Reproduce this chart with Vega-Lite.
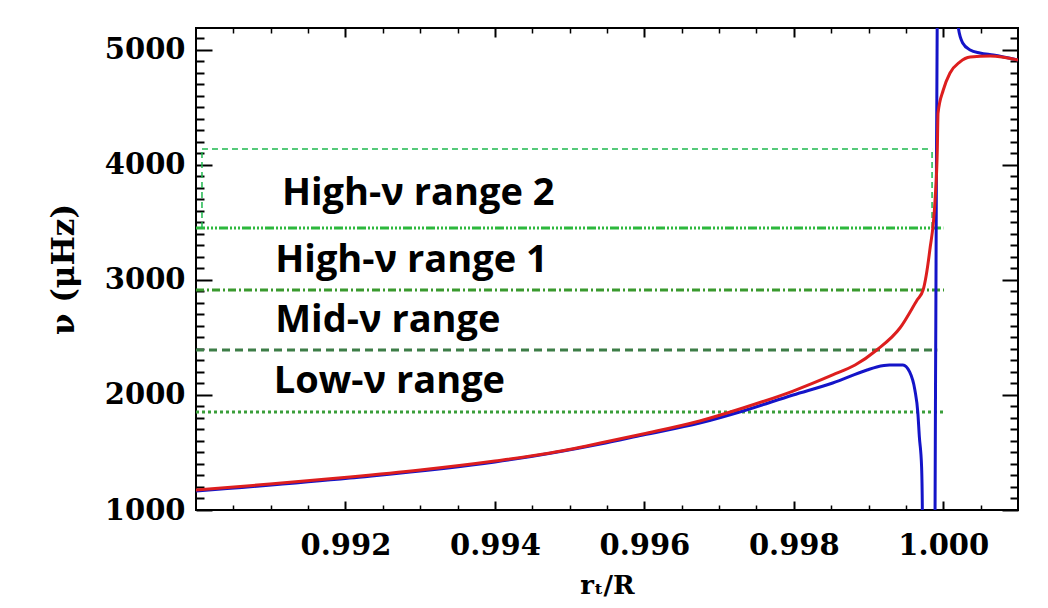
{
  "$schema": "https://vega.github.io/schema/vega-lite/v6.json",
  "width": 822,
  "height": 482,
  "autosize": {"type": "none"},
  "padding": {"left": 196, "top": 28, "right": 30, "bottom": 98},
  "background": "white",
  "config": {
    "view": {"stroke": "black", "strokeWidth": 2},
    "axis": {
      "grid": false,
      "domain": false,
      "tickColor": "black",
      "labelFont": "DejaVu Serif",
      "labelFontWeight": "bold",
      "labelFontSize": 29,
      "labelColor": "black",
      "labelFlush": false,
      "labelOverlap": false,
      "titleFont": "DejaVu Serif",
      "titleFontWeight": "bold",
      "titleColor": "black"
    }
  },
  "datasets": {
    "ranges": [
      {"kind": "low", "r0": 0.990, "r1": 1.00001, "nu": 1852},
      {"kind": "mid", "r0": 0.990, "r1": 0.99992, "nu": 2391},
      {"kind": "high1", "r0": 0.990, "r1": 1.00001, "nu": 2912},
      {"kind": "high2", "r0": 0.990, "r1": 1.00000, "nu": 3451}
    ],
    "box": [
      {"r0": 0.99008, "r1": 0.99985, "nu0": 4138, "nu1": 4138},
      {"r0": 0.99008, "r1": 0.99008, "nu0": 3451, "nu1": 4138},
      {"r0": 0.99985, "r1": 0.99985, "nu0": 3451, "nu1": 4138}
    ],
    "blue": [
      {"i": 0, "r": 0.99000, "nu": 1165},
      {"i": 1, "r": 0.99206, "nu": 1278},
      {"i": 2, "r": 0.99400, "nu": 1417},
      {"i": 3, "r": 0.99541, "nu": 1574},
      {"i": 4, "r": 0.99598, "nu": 1652},
      {"i": 5, "r": 0.99674, "nu": 1756},
      {"i": 6, "r": 0.99732, "nu": 1861},
      {"i": 7, "r": 0.99799, "nu": 2000},
      {"i": 8, "r": 0.99852, "nu": 2104},
      {"i": 9, "r": 0.99898, "nu": 2217},
      {"i": 10, "r": 0.99911, "nu": 2243},
      {"i": 11, "r": 0.99928, "nu": 2260},
      {"i": 12, "r": 0.99946, "nu": 2260},
      {"i": 13, "r": 0.99955, "nu": 2200},
      {"i": 14, "r": 0.99962, "nu": 2043},
      {"i": 15, "r": 0.99966, "nu": 1843},
      {"i": 16, "r": 0.99968, "nu": 1635},
      {"i": 17, "r": 0.99971, "nu": 1374},
      {"i": 18, "r": 0.99972, "nu": 1000},
      {"i": 19, "r": 0.99974, "nu": -3000},
      {"i": 20, "r": 0.99986, "nu": -3000},
      {"i": 21, "r": 0.99988, "nu": -3000},
      {"i": 22, "r": 0.99989, "nu": 1000},
      {"i": 23, "r": 0.99990, "nu": 2600},
      {"i": 24, "r": 0.99991, "nu": 4200},
      {"i": 25, "r": 0.99992, "nu": 5400},
      {"i": 26, "r": 0.99993, "nu": 9000},
      {"i": 27, "r": 1.00016, "nu": 9000},
      {"i": 28, "r": 1.00018, "nu": 6000},
      {"i": 29, "r": 1.00020, "nu": 5199},
      {"i": 30, "r": 1.00026, "nu": 5060},
      {"i": 31, "r": 1.00036, "nu": 4999},
      {"i": 32, "r": 1.00049, "nu": 4973},
      {"i": 33, "r": 1.00067, "nu": 4955},
      {"i": 34, "r": 1.00100, "nu": 4912}
    ],
    "red": [
      {"i": 0, "r": 0.99000, "nu": 1174},
      {"i": 1, "r": 0.99099, "nu": 1226},
      {"i": 2, "r": 0.99206, "nu": 1287},
      {"i": 3, "r": 0.99300, "nu": 1348},
      {"i": 4, "r": 0.99400, "nu": 1426},
      {"i": 5, "r": 0.99474, "nu": 1496},
      {"i": 6, "r": 0.99541, "nu": 1582},
      {"i": 7, "r": 0.99598, "nu": 1661},
      {"i": 8, "r": 0.99674, "nu": 1774},
      {"i": 9, "r": 0.99732, "nu": 1887},
      {"i": 10, "r": 0.99799, "nu": 2034},
      {"i": 11, "r": 0.99852, "nu": 2174},
      {"i": 12, "r": 0.99882, "nu": 2260},
      {"i": 13, "r": 0.99911, "nu": 2391},
      {"i": 14, "r": 0.99942, "nu": 2582},
      {"i": 15, "r": 0.99965, "nu": 2826},
      {"i": 16, "r": 0.99973, "nu": 2912},
      {"i": 17, "r": 0.99982, "nu": 3260},
      {"i": 18, "r": 0.99989, "nu": 3695},
      {"i": 19, "r": 0.99992, "nu": 4129},
      {"i": 20, "r": 0.99993, "nu": 4451},
      {"i": 21, "r": 1.00000, "nu": 4651},
      {"i": 22, "r": 1.00009, "nu": 4799},
      {"i": 23, "r": 1.00022, "nu": 4894},
      {"i": 24, "r": 1.00036, "nu": 4938},
      {"i": 25, "r": 1.00063, "nu": 4947},
      {"i": 26, "r": 1.00100, "nu": 4912}
    ],
    "labels": [
      {"text": "High-ν range 2", "r": 0.99115, "nu": 3651},
      {"text": "High-ν range 1", "r": 0.99106, "nu": 3069},
      {"text": "Mid-ν range", "r": 0.99106, "nu": 2547},
      {"text": "Low-ν range", "r": 0.99104, "nu": 2017}
    ]
  },
  "resolve": {"axis": {"x": "independent", "y": "independent"}},
  "layer": [
    {
      "data": {"name": "ranges"},
      "mark": {"type": "rule", "strokeWidth": 3, "strokeCap": "butt"},
      "encoding": {
        "x": {
          "field": "r0", "type": "quantitative",
          "scale": {"domain": [0.990, 1.001], "nice": false, "zero": false},
          "axis": {
            "orient": "bottom",
            "values": [0.992, 0.994, 0.996, 0.998, 1.0],
            "format": ".3f",
            "ticks": false,
            "labelPadding": 21,
            "title": "rₜ/R", "titleFontSize": 26, "titlePadding": 12
          }
        },
        "x2": {"field": "r1"},
        "y": {
          "field": "nu", "type": "quantitative",
          "scale": {"domain": [1000, 5190], "nice": false, "zero": false},
          "axis": {
            "orient": "left",
            "values": [1000, 2000, 3000, 4000, 5000],
            "format": "d",
            "ticks": false,
            "labelPadding": 11,
            "title": "ν (μHz)", "titleFontSize": 31, "titlePadding": 24
          }
        },
        "color": {
          "field": "kind", "type": "nominal", "legend": null,
          "scale": {"domain": ["low", "mid", "high1", "high2"], "range": ["#3a9e3a", "#3d7d47", "#3a9a2e", "#2db83d"]}
        },
        "strokeDash": {
          "field": "kind", "type": "nominal", "legend": null,
          "scale": {"domain": ["low", "mid", "high1", "high2"], "range": [[3, 3], [8, 5], [8, 3, 2, 3], [9, 2, 2, 2, 2, 2, 2, 2]]}
        }
      }
    },
    {
      "data": {"name": "box"},
      "mark": {"type": "rule", "strokeWidth": 1.5, "color": "#1fb84f", "strokeDash": [6, 4]},
      "encoding": {
        "x": {
          "field": "r0", "type": "quantitative",
          "scale": {"domain": [0.990, 1.001], "nice": false, "zero": false},
          "axis": {
            "orient": "bottom", "offset": -9,
            "values": [0.992, 0.994, 0.996, 0.998, 1.0],
            "tickSize": 9, "tickWidth": 2, "labels": false, "title": null
          }
        },
        "x2": {"field": "r1"},
        "y": {
          "field": "nu0", "type": "quantitative",
          "scale": {"domain": [1000, 5190], "nice": false, "zero": false},
          "axis": {
            "orient": "left", "offset": -16,
            "values": [1000, 2000, 3000, 4000, 5000],
            "tickSize": 16, "tickWidth": 2, "labels": false, "title": null
          }
        },
        "y2": {"field": "nu1"}
      }
    },
    {
      "data": {"name": "blue"},
      "mark": {"type": "line", "color": "#1414c8", "strokeWidth": 3, "clip": true, "interpolate": "monotone"},
      "encoding": {
        "x": {
          "field": "r", "type": "quantitative",
          "scale": {"domain": [0.990, 1.001], "nice": false, "zero": false},
          "axis": {
            "orient": "top", "offset": -9,
            "values": [0.992, 0.994, 0.996, 0.998, 1.0],
            "tickSize": 9, "tickWidth": 2, "labels": false, "title": null
          }
        },
        "y": {
          "field": "nu", "type": "quantitative",
          "scale": {"domain": [1000, 5190], "nice": false, "zero": false},
          "axis": {
            "orient": "right", "offset": -16,
            "values": [1000, 2000, 3000, 4000, 5000],
            "tickSize": 16, "tickWidth": 2, "labels": false, "title": null
          }
        },
        "order": {"field": "i", "type": "quantitative"}
      }
    },
    {
      "data": {"name": "red"},
      "mark": {"type": "line", "color": "#dd1e1e", "strokeWidth": 3, "clip": true, "interpolate": "monotone"},
      "encoding": {
        "x": {
          "field": "r", "type": "quantitative",
          "scale": {"domain": [0.990, 1.001], "nice": false, "zero": false},
          "axis": {
            "orient": "top", "offset": -5,
            "values": [0.9905, 0.991, 0.9915, 0.9925, 0.993, 0.9935, 0.9945, 0.995, 0.9955, 0.9965, 0.997, 0.9975, 0.9985, 0.999, 0.9995, 1.0005],
            "tickSize": 5, "tickWidth": 1.5, "labels": false, "title": null
          }
        },
        "y": {
          "field": "nu", "type": "quantitative",
          "scale": {"domain": [1000, 5190], "nice": false, "zero": false},
          "axis": {
            "orient": "right", "offset": -8,
            "values": [1100, 1200, 1300, 1400, 1500, 1600, 1700, 1800, 1900, 2100, 2200, 2300, 2400, 2500, 2600, 2700, 2800, 2900, 3100, 3200, 3300, 3400, 3500, 3600, 3700, 3800, 3900, 4100, 4200, 4300, 4400, 4500, 4600, 4700, 4800, 4900, 5100],
            "tickSize": 8, "tickWidth": 2, "labels": false, "title": null
          }
        },
        "order": {"field": "i", "type": "quantitative"}
      }
    },
    {
      "data": {"name": "labels"},
      "mark": {"type": "text", "font": "Open Sans", "fontWeight": "bold", "fontSize": 38, "align": "left", "baseline": "alphabetic", "color": "black"},
      "encoding": {
        "x": {
          "field": "r", "type": "quantitative",
          "scale": {"domain": [0.990, 1.001], "nice": false, "zero": false},
          "axis": {
            "orient": "bottom", "offset": -5,
            "values": [0.9905, 0.991, 0.9915, 0.9925, 0.993, 0.9935, 0.9945, 0.995, 0.9955, 0.9965, 0.997, 0.9975, 0.9985, 0.999, 0.9995, 1.0005],
            "tickSize": 5, "tickWidth": 1.5, "labels": false, "title": null
          }
        },
        "y": {
          "field": "nu", "type": "quantitative",
          "scale": {"domain": [1000, 5190], "nice": false, "zero": false},
          "axis": {
            "orient": "left", "offset": -8,
            "values": [1100, 1200, 1300, 1400, 1500, 1600, 1700, 1800, 1900, 2100, 2200, 2300, 2400, 2500, 2600, 2700, 2800, 2900, 3100, 3200, 3300, 3400, 3500, 3600, 3700, 3800, 3900, 4100, 4200, 4300, 4400, 4500, 4600, 4700, 4800, 4900, 5100],
            "tickSize": 8, "tickWidth": 2, "labels": false, "title": null
          }
        },
        "text": {"field": "text"}
      }
    }
  ]
}
